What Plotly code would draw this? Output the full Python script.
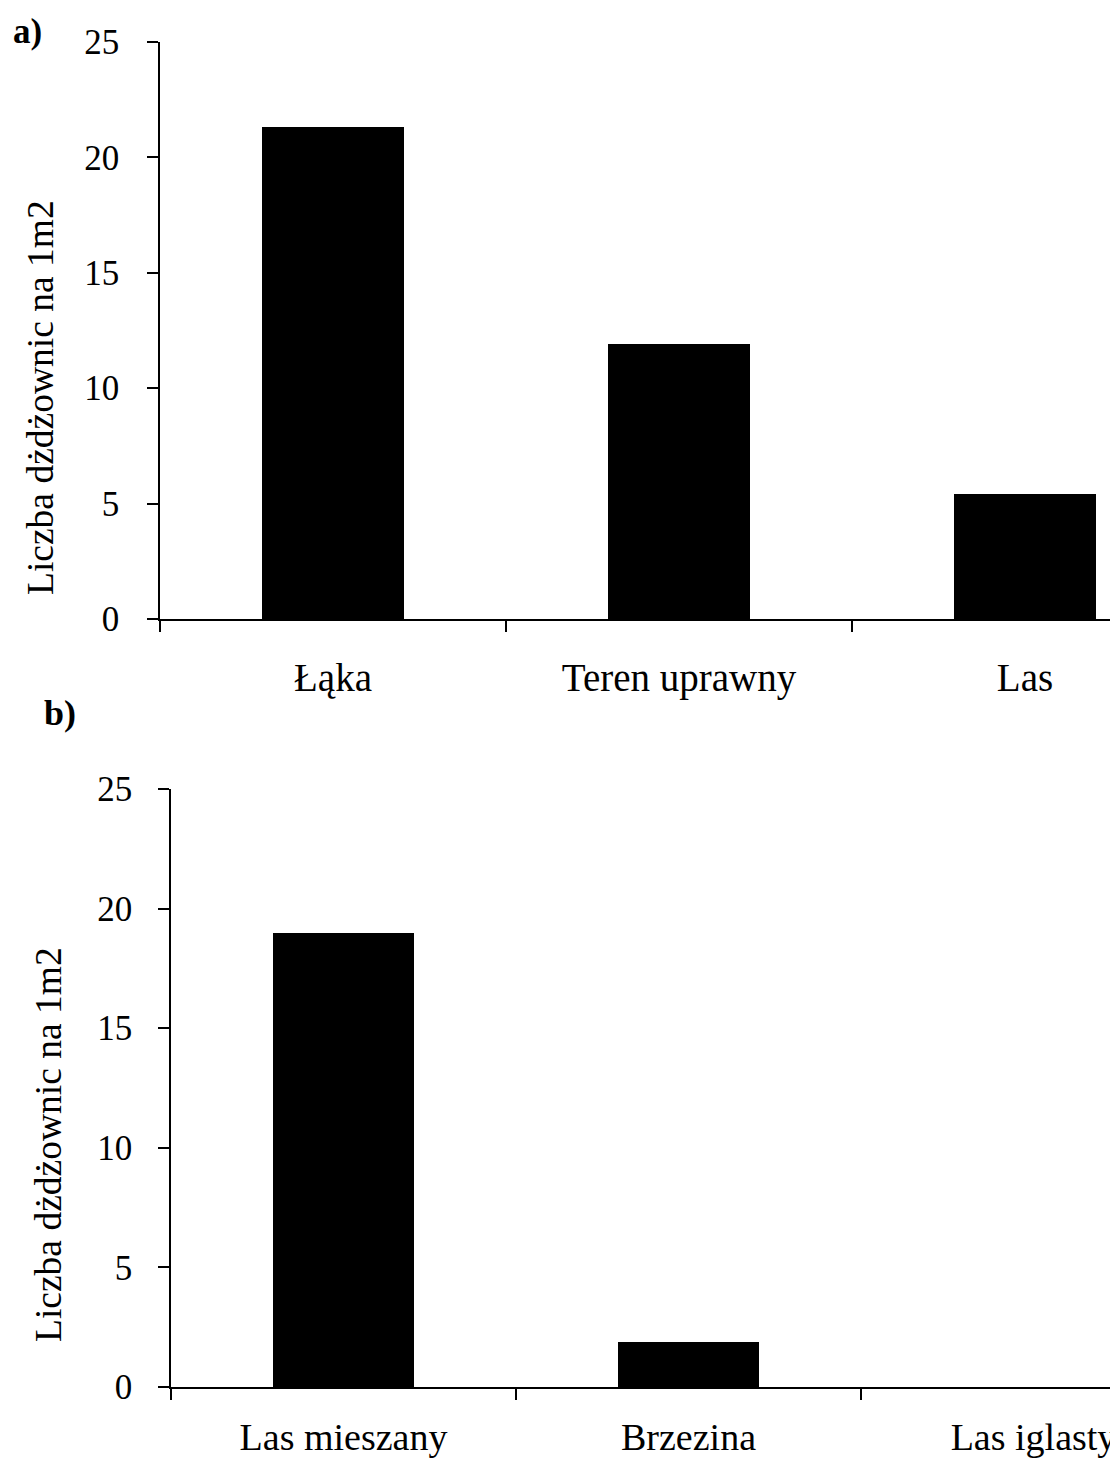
import plotly.graph_objects as go

cats_a = ["Łąka", "Teren uprawny", "Las"]
vals_a = [21.3, 11.9, 5.4]
cats_b = ["Las mieszany", "Brzezina", "Las iglasty"]
vals_b = [19.0, 1.9, 0.0]
y_ticks = [0, 5, 10, 15, 20, 25]
y_title = "Liczba dżdżownic na 1m2"

# page is rendered with an 8px body margin, so the figure is sized to fill the rest
OFF = 8
PAGE_W, PAGE_H = 1118, 1469
W, H = PAGE_W - OFF, PAGE_H - OFF
FONT = "Liberation Serif, Times New Roman, serif"

fig = go.Figure()
fig.add_trace(go.Bar(x=cats_a, y=vals_a, width=0.41, marker=dict(color="black", line=dict(width=0)),
                     xaxis="x", yaxis="y", showlegend=False))
fig.add_trace(go.Bar(x=cats_b, y=vals_b, width=0.41, marker=dict(color="black", line=dict(width=0)),
                     xaxis="x2", yaxis="y2", showlegend=False))

def px_x(p):
    return (p - OFF) / W

def px_y(p):
    return 1 - (p - OFF) / H

xa_common = dict(type="category", tickson="boundaries", ticks="outside", ticklen=11, tickwidth=1.5,
                 tickcolor="black", showline=True, linecolor="black", linewidth=1.5, showgrid=False,
                 zeroline=False, fixedrange=True, automargin=False)
ya_common = dict(range=[0, 25], tickvals=y_ticks, ticks="outside", ticklen=11, tickwidth=1.5,
                 tickcolor="black", showline=True, linecolor="black", linewidth=1.5, showgrid=False,
                 zeroline=False, tickfont=dict(family=FONT, size=35, color="black"), fixedrange=True,
                 automargin=False)

fig.update_layout(
    width=W, height=H,
    margin=dict(l=0, r=0, t=0, b=0, pad=0, autoexpand=False),
    paper_bgcolor="white", plot_bgcolor="white",
    bargap=0,
    xaxis=dict(xa_common, domain=[px_x(160), 1], range=[-0.5, (PAGE_W - 160) / 346 - 0.5],
               anchor="y", ticklabelstandoff=23, tickfont=dict(family=FONT, size=39, color="black")),
    yaxis=dict(ya_common, domain=[px_y(619), px_y(42)], anchor="x", ticklabelstandoff=21),
    xaxis2=dict(xa_common, domain=[px_x(171), 1], range=[-0.5, (PAGE_W - 171) / 345 - 0.5],
                anchor="y2", ticklabelstandoff=16, tickfont=dict(family=FONT, size=38, color="black")),
    yaxis2=dict(ya_common, domain=[px_y(1387), px_y(789)], anchor="x2", ticklabelstandoff=19),
)

annotations = [
    dict(text="<b>a)</b>", x=px_x(27), y=px_y(31), xref="paper", yref="paper", showarrow=False,
         font=dict(family=FONT, size=35, color="black"), xanchor="center", yanchor="middle"),
    dict(text="<b>b)</b>", x=px_x(60), y=px_y(713), xref="paper", yref="paper", showarrow=False,
         font=dict(family=FONT, size=36, color="black"), xanchor="center", yanchor="middle"),
    dict(text=y_title, x=px_x(40), y=px_y(398), xref="paper", yref="paper", showarrow=False,
         textangle=-90, font=dict(family=FONT, size=37.5, color="black"), xanchor="center", yanchor="middle"),
    dict(text=y_title, x=px_x(48), y=px_y(1145), xref="paper", yref="paper", showarrow=False,
         textangle=-90, font=dict(family=FONT, size=37.5, color="black"), xanchor="center", yanchor="middle"),
]
fig.update_layout(annotations=annotations)

fig.write_html("out.html")
